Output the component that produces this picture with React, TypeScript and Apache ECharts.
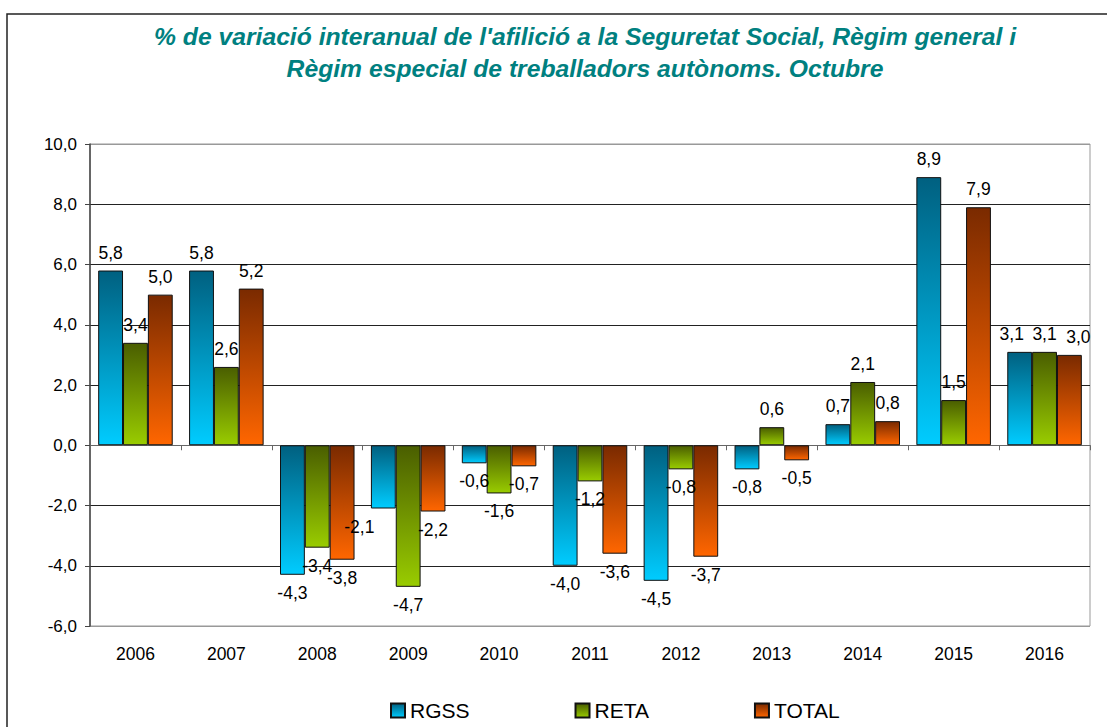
import React, { useEffect, useRef } from "react";
import * as echarts from "echarts";

const categories = ["2006", "2007", "2008", "2009", "2010", "2011", "2012", "2013", "2014", "2015", "2016"];
const rgss = [5.8, 5.8, -4.3, -2.1, -0.6, -4.0, -4.5, -0.8, 0.7, 8.9, 3.1];
const reta = [3.4, 2.6, -3.4, -4.7, -1.6, -1.2, -0.8, 0.6, 2.1, 1.5, 3.1];
const total = [5.0, 5.2, -3.8, -2.2, -0.7, -3.6, -3.7, -0.5, 0.8, 7.9, 3.0];
const seriesNames = ["RGSS", "RETA", "TOTAL"];
const titleText =
  "% de variació interanual de l'afilició a la Seguretat Social, Règim general i\nRègim especial de treballadors autònoms. Octubre";

const fmt = (v: number) => v.toFixed(1).replace(".", ",");

const grad = (top: string, bottom: string) =>
  new echarts.graphic.LinearGradient(0, 0, 0, 1, [
    { offset: 0, color: top },
    { offset: 1, color: bottom },
  ]);

export default function App() {
  const ref = useRef<HTMLDivElement>(null);
  useEffect(() => {
    if (!ref.current) return;
    const chart = echarts.init(ref.current, null, { renderer: "svg" });
    const font = "'Liberation Sans', Arial, sans-serif";
    const colors = [
      ["#006080", "#00ccff"],
      ["#4a5e00", "#99cc00"],
      ["#7a2a00", "#ff6600"],
    ];
    const values = [rgss, reta, total];
    const labelOffsets: Record<string, [number, number]> = {
      "0-3": [-24, 0],
      "0-10": [-8, 0],
      "2-10": [9, 0],
    };
    const series = values.map((vals, si) => ({
      name: seriesNames[si],
      type: "bar",
      barGap: "0%",
      barCategoryGap: "18%",
      itemStyle: { color: grad(colors[si][0], colors[si][1]), borderColor: "#111", borderWidth: 1 },
      data: vals.map((v, i) => {
        const off = labelOffsets[`${si}-${i}`];
        return {
          value: v,
          label: {
            position: v >= 0 ? "top" : "bottom",
            ...(off ? { offset: off } : {}),
          },
        };
      }),
      label: {
        show: true,
        distance: 9,
        formatter: (p: any) => fmt(p.value),
        fontSize: 17.5,
        fontFamily: font,
        color: "#000",
      },
    }));
    chart.setOption({
      animation: false,
      backgroundColor: "#fff",
      graphic: [
        {
          type: "rect",
          shape: { x: 7, y: 14, width: 1300, height: 900 },
          style: { fill: "none", stroke: "#222", lineWidth: 1.5 },
          silent: true,
        },
        {
          type: "text",
          x: 585,
          y: 52,
          style: {
            text: titleText,
            align: "center",
            verticalAlign: "middle",
            font: `italic bold 24.7px ${font}`,
            lineHeight: 32,
            fill: "#008080",
          },
        },
      ],
      legend: {
        data: seriesNames,
        left: 385,
        top: 695,
        itemWidth: 14,
        itemHeight: 14,
        itemGap: 105,
        icon: "rect",
        textStyle: { fontSize: 21, fontFamily: font, color: "#000" },
      },
      grid: {
        left: 90,
        right: 17,
        top: 144,
        bottom: 101,
        show: true,
        borderColor: "#999",
        borderWidth: 1,
      },
      xAxis: [
        {
          type: "category",
          data: categories,
          axisLine: { onZero: true, lineStyle: { color: "#666", width: 1 } },
          axisTick: { show: true, length: 5, lineStyle: { color: "#666" } },
          axisLabel: { show: false },
        },
        {
          type: "category",
          data: categories,
          position: "bottom",
          axisLine: { show: false, onZero: false },
          axisTick: { show: false },
          axisLabel: { show: true, fontSize: 17.5, fontFamily: font, color: "#000", margin: 19 },
        },
      ],
      yAxis: {
        type: "value",
        min: -6,
        max: 10,
        interval: 2,
        axisLine: { show: true, lineStyle: { color: "#444", width: 1.5 } },
        axisTick: { show: true, length: 5, lineStyle: { color: "#444" } },
        axisLabel: { formatter: fmt, fontSize: 17, fontFamily: font, color: "#000", margin: 13 },
        splitLine: {
          show: true,
          lineStyle: {
            color: ["#999", "#222", "#222", "#666", "#222", "#222", "#222", "#222", "#999"],
            width: 1,
          },
        },
      },
      series,
    });
    return () => chart.dispose();
  }, []);
  return (
    <div
      ref={ref}
      style={{ position: "absolute", left: 0, top: 0, width: 1107, height: 727, background: "#fff" }}
    />
  );
}
